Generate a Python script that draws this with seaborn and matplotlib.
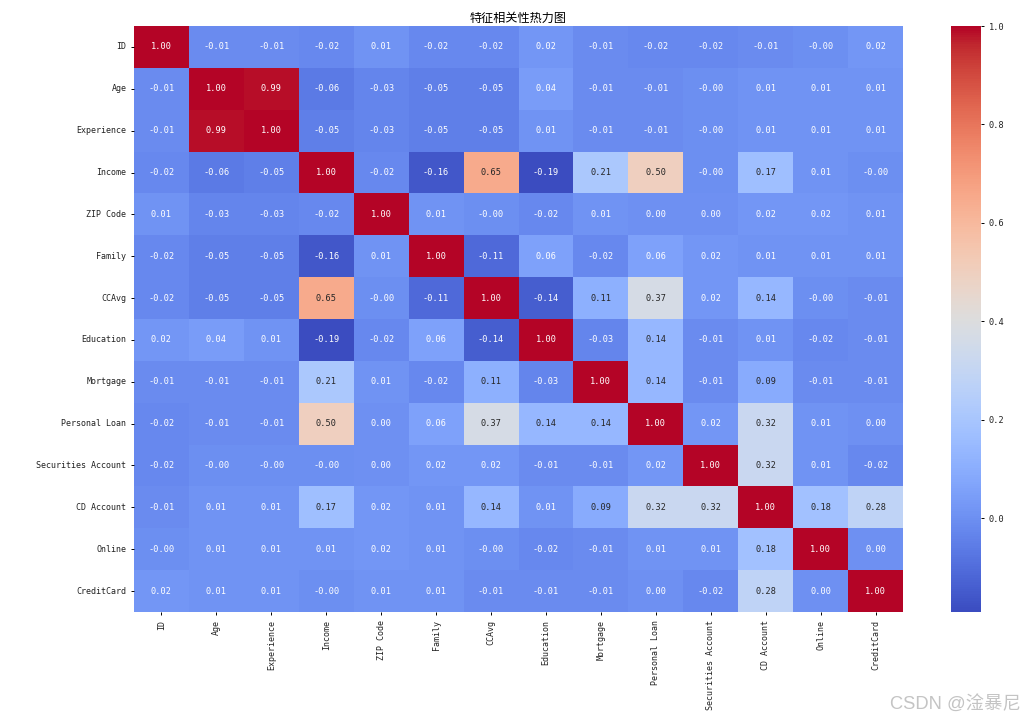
import matplotlib
matplotlib.use("Agg")
import matplotlib.pyplot as plt
import numpy as np
import pandas as pd
import seaborn as sns

features = ["ID", "Age", "Experience", "Income", "ZIP Code", "Family", "CCAvg", "Education",
            "Mortgage", "Personal Loan", "Securities Account", "CD Account", "Online", "CreditCard"]

# values, -0.004 stands for the cells printed as -0.00
row_id = [1.00, -0.01, -0.01, -0.02, 0.01, -0.02, -0.02, 0.02, -0.01, -0.02, -0.02, -0.01, -0.004, 0.02]
row_age = [-0.01, 1.00, 0.99, -0.06, -0.03, -0.05, -0.05, 0.04, -0.01, -0.01, -0.004, 0.01, 0.01, 0.01]
row_exp = [-0.01, 0.99, 1.00, -0.05, -0.03, -0.05, -0.05, 0.01, -0.01, -0.01, -0.004, 0.01, 0.01, 0.01]
row_income = [-0.02, -0.06, -0.05, 1.00, -0.02, -0.16, 0.65, -0.19, 0.21, 0.50, -0.004, 0.17, 0.01, -0.004]
row_zip = [0.01, -0.03, -0.03, -0.02, 1.00, 0.01, -0.004, -0.02, 0.01, 0.004, 0.004, 0.02, 0.02, 0.01]
row_family = [-0.02, -0.05, -0.05, -0.16, 0.01, 1.00, -0.11, 0.06, -0.02, 0.06, 0.02, 0.01, 0.01, 0.01]
row_ccavg = [-0.02, -0.05, -0.05, 0.65, -0.004, -0.11, 1.00, -0.14, 0.11, 0.37, 0.02, 0.14, -0.004, -0.01]
row_edu = [0.02, 0.04, 0.01, -0.19, -0.02, 0.06, -0.14, 1.00, -0.03, 0.14, -0.01, 0.01, -0.02, -0.01]
row_mortgage = [-0.01, -0.01, -0.01, 0.21, 0.01, -0.02, 0.11, -0.03, 1.00, 0.14, -0.01, 0.09, -0.01, -0.01]
row_loan = [-0.02, -0.01, -0.01, 0.50, 0.004, 0.06, 0.37, 0.14, 0.14, 1.00, 0.02, 0.32, 0.01, 0.004]
row_sec = [-0.02, -0.004, -0.004, -0.004, 0.004, 0.02, 0.02, -0.01, -0.01, 0.02, 1.00, 0.32, 0.01, -0.02]
row_cd = [-0.01, 0.01, 0.01, 0.17, 0.02, 0.01, 0.14, 0.01, 0.09, 0.32, 0.32, 1.00, 0.18, 0.28]
row_online = [-0.004, 0.01, 0.01, 0.01, 0.02, 0.01, -0.004, -0.02, -0.01, 0.01, 0.01, 0.18, 1.00, 0.004]
row_card = [0.02, 0.01, 0.01, -0.004, 0.01, 0.01, -0.01, -0.01, -0.01, 0.004, -0.02, 0.28, 0.004, 1.00]

corr = pd.DataFrame(
    np.array([row_id, row_age, row_exp, row_income, row_zip, row_family, row_ccavg, row_edu,
              row_mortgage, row_loan, row_sec, row_cd, row_online, row_card]),
    index=features, columns=features,
)

plt.rcParams["font.family"] = ["DejaVu Sans Mono", "Noto Sans CJK SC"]
plt.rcParams["font.size"] = 6

W, H = 1025, 720
fig = plt.figure(figsize=(W / 100, H / 100), dpi=100)
ax = fig.add_axes([134 / W, 1 - 612 / H, 769 / W, 586 / H])
cax = fig.add_axes([951 / W, 1 - 612 / H, 30 / W, 586 / H])

sns.heatmap(corr, annot=True, fmt=".2f", cmap="coolwarm", ax=ax, cbar_ax=cax,
            annot_kws={"size": 6.2})

ax.set_title("特征相关性热力图", fontsize=8.7, pad=3)
ax.tick_params(axis="both", labelsize=6, length=2.5, width=0.7, pad=3, labelcolor="#222222")
ax.tick_params(axis="x", labelrotation=90)
ax.tick_params(axis="y", labelrotation=0)
cax.set_yticks([0.0, 0.2, 0.4, 0.6, 0.8, 1.0])
cax.tick_params(labelsize=6.2, length=2.5, width=0.7, pad=3, labelcolor="#222222")

fig.text(1021 / W, 1 - 709 / H, "CSDN @淦暴尼", color="#c4c4c4", fontsize=13.2, ha="right", va="baseline",
         family=["Liberation Sans", "Noto Sans CJK SC"])

fig.savefig("out.png", dpi=100)
